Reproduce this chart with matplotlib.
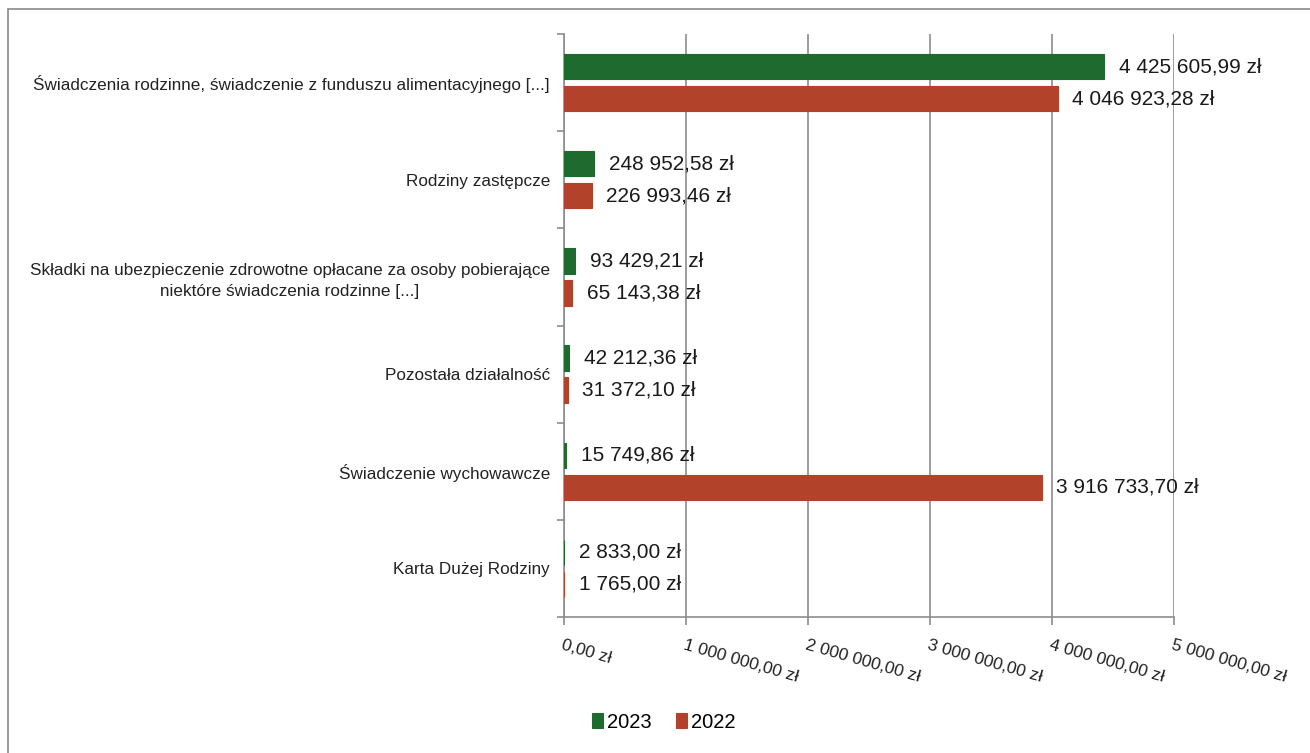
import numpy as np
import matplotlib
matplotlib.use('Agg')
import matplotlib.pyplot as plt
from matplotlib.patches import Rectangle

plt.rcParams['font.family'] = ['Liberation Sans', 'DejaVu Sans']

# Data
categories = [
    'Świadczenia rodzinne, świadczenie z funduszu alimentacyjnego [...]',
    'Rodziny zastępcze',
    'Składki na ubezpieczenie zdrowotne opłacane za osoby pobierające\nniektóre świadczenia rodzinne [...]',
    'Pozostała działalność',
    'Świadczenie wychowawcze',
    'Karta Dużej Rodziny',
]
values_2023 = [4425605.99, 248952.58, 93429.21, 42212.36, 15749.86, 2833.00]
values_2022 = [4046923.28, 226993.46, 65143.38, 31372.10, 3916733.70, 1765.00]
x_ticks = [0, 1000000, 2000000, 3000000, 4000000, 5000000]

green = '#1f6a2e'
red = '#b2432a'
grid_col = '#8c8c8c'


def pln(v):
    s = f'{v:,.2f}'.replace(',', ' ').replace('.', ',')
    return s + ' zł'


fig = plt.figure(figsize=(13.1, 7.53), dpi=100)
ax = fig.add_axes([564 / 1310, 1 - 617 / 753, 610 / 1310, 583 / 753])

# outer chart frame
fig.patches.append(Rectangle((8 / 1310, -0.1), 1.2, 1.1 - 9 / 753, transform=fig.transFigure,
                             fill=False, edgecolor='#8a8a8a', linewidth=1.2))

y = np.arange(len(categories))
h = 0.26
off = 0.165
b1 = ax.barh(y - off, values_2023, height=h, color=green, edgecolor=green, linewidth=0.8,
             label='2023', zorder=3)
b2 = ax.barh(y + off, values_2022, height=h, color=red, edgecolor=red, linewidth=0.8,
             label='2022', zorder=3)

for bars, vals in [(b1, values_2023), (b2, values_2022)]:
    for bar, v in zip(bars, vals):
        ax.annotate(pln(v), (bar.get_width(), bar.get_y() + bar.get_height() / 2),
                    xytext=(10.5, 0), textcoords='offset points', ha='left', va='center',
                    fontsize=15, color='#1a1a1a', zorder=4)

ax.set_xlim(0, 5000000)
ax.set_ylim(len(categories) - 0.5, -0.5)

ax.set_xticks(x_ticks)
ax.set_xticklabels([pln(t) for t in x_ticks], rotation=-16, rotation_mode='anchor',
                   ha='left', va='top', fontsize=12.5, color='#222222')
ax.tick_params(axis='x', length=6, color=grid_col, width=1.2, pad=9)

ax.set_yticks(y)
ax.set_yticklabels(categories, fontsize=12.3, color='#222222', multialignment='center',
                   linespacing=1.45)
ax.tick_params(axis='y', which='major', length=0, pad=10)
ax.set_yticks(np.arange(-0.5, len(categories), 1), minor=True)
ax.tick_params(axis='y', which='minor', length=5, color=grid_col, width=1.2)

ax.xaxis.grid(True, color=grid_col, linewidth=1.2, zorder=0)
ax.set_axisbelow(True)
for s in ['top', 'right']:
    ax.spines[s].set_visible(False)
for s in ['left', 'bottom']:
    ax.spines[s].set_color(grid_col)
    ax.spines[s].set_linewidth(1.2)

fig.legend(handles=[b1, b2], labels=['2023', '2022'], loc='center', bbox_to_anchor=(664 / 1310, 1 - 722 / 753),
           ncol=2, frameon=False, fontsize=14.5, handlelength=0.55, handleheight=0.7,
           handletextpad=0.2, columnspacing=1.2)

fig.savefig('out.png', dpi=100)
